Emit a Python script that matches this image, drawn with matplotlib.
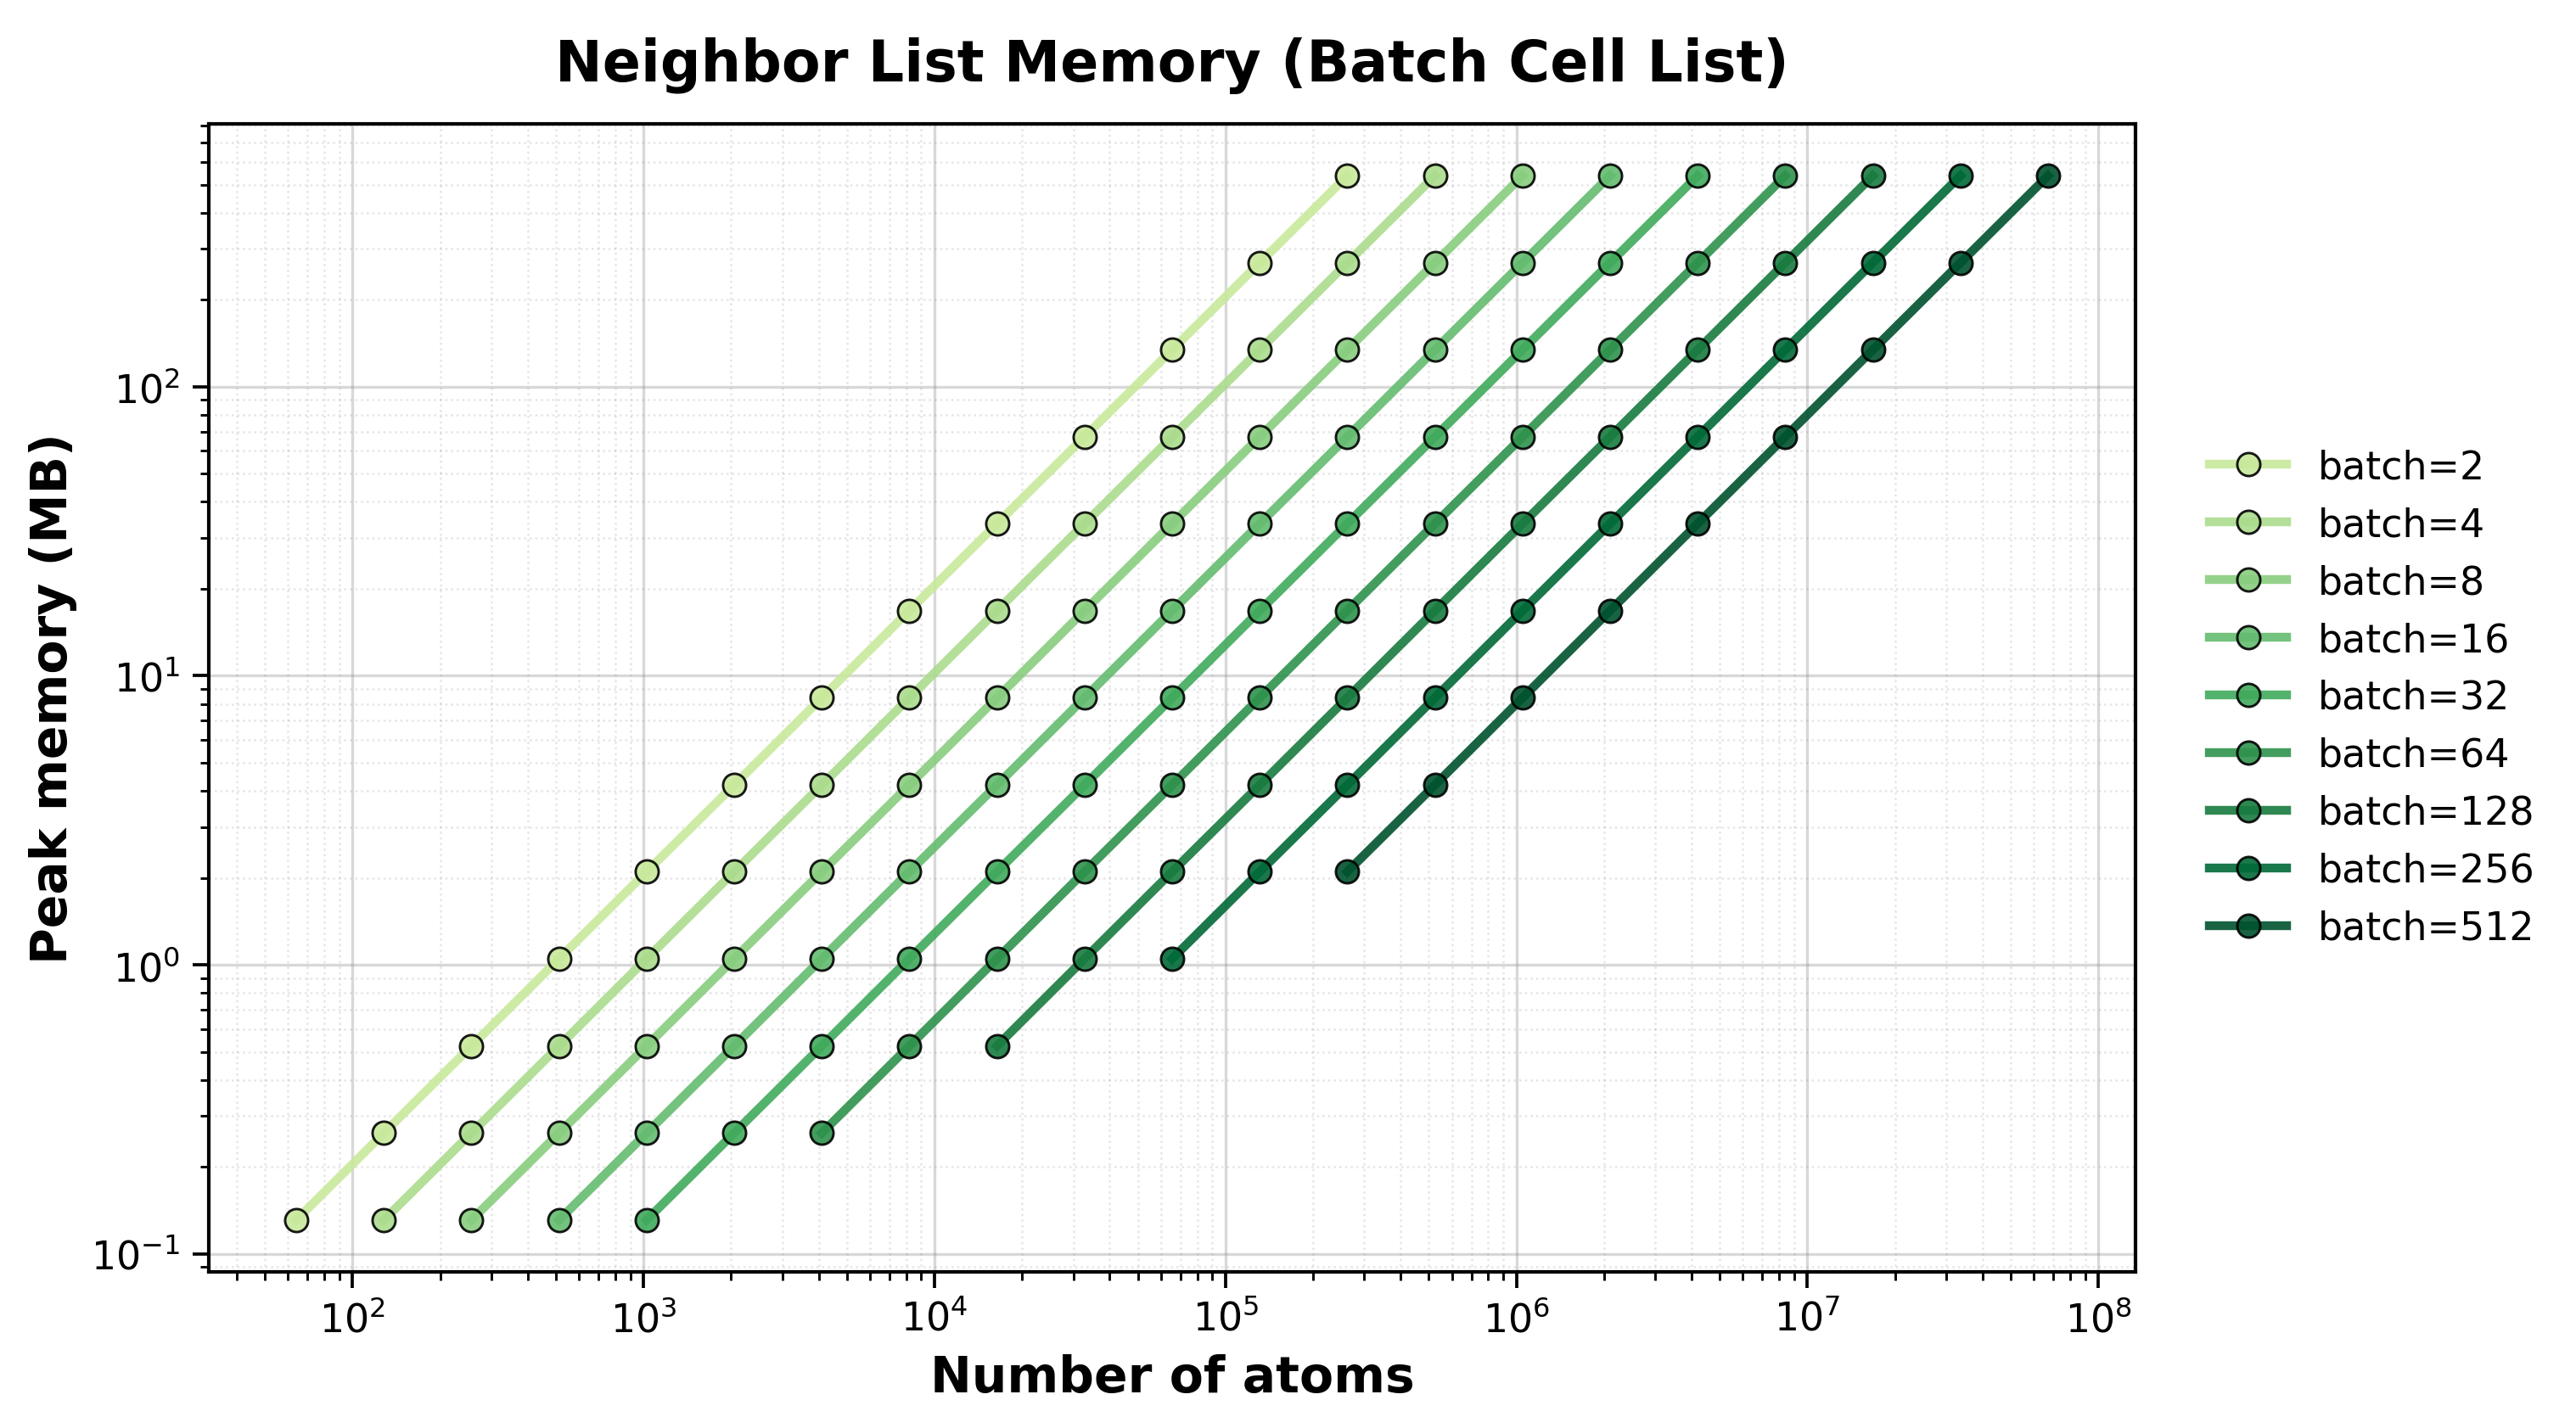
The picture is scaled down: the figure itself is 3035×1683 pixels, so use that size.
import numpy as np
import matplotlib
matplotlib.use("Agg")
import matplotlib.pyplot as plt

# batch sizes and the per-system atom counts swept for each
batch_sizes = [2, 4, 8, 16, 32, 64, 128, 256, 512]
atoms_per_system = [32, 64, 128, 256, 512, 1024, 2048, 4096, 8192,
                    16384, 32768, 65536, 131072]
# peak memory (MB), one value per atoms_per_system entry
peak_memory_mb = [0.131, 0.262, 0.524, 1.05, 2.10, 4.19, 8.39, 16.8,
                  33.6, 67.1, 134.2, 268.4, 536.9]
# smallest system size that was run for each batch size
first_system = [32, 32, 32, 32, 32, 64, 128, 256, 512]

colors = plt.cm.YlGn(np.linspace(0.3, 0.95, len(batch_sizes)))

fig, ax = plt.subplots(figsize=(10.117, 5.613), dpi=300)
fig.subplots_adjust(left=0.081, right=0.829, top=0.913, bottom=0.109)

for b, start, c in zip(batch_sizes, first_system, colors):
    i0 = atoms_per_system.index(start)
    n_atoms = [b * n for n in atoms_per_system[i0:]]
    mem = peak_memory_mb[i0:]
    ax.plot(n_atoms, mem, '-o', color=c, lw=2.5, alpha=0.9,
            markersize=6.5, markeredgecolor='black', markeredgewidth=0.7,
            label=f'batch={b}')

ax.set_xscale('log')
ax.set_yscale('log')
ax.grid(True, which='major', color='gray', alpha=0.3, lw=0.8)
ax.grid(True, which='minor', color='gray', alpha=0.2, ls=':', lw=0.6)
ax.tick_params(axis='both', which='major', labelsize=11, width=0.9, length=4.5)
ax.tick_params(axis='both', which='minor', width=0.7, length=2.5)
for s in ax.spines.values():
    s.set_linewidth(1.0)

ax.set_xlabel('Number of atoms', fontsize=14, fontweight='bold')
ax.set_ylabel('Peak memory (MB)', fontsize=14, fontweight='bold')
ax.set_title('Neighbor List Memory (Batch Cell List)', fontsize=16,
             fontweight='bold', pad=12)
ax.legend(loc='center left', bbox_to_anchor=(1.02, 0.5), frameon=False,
          fontsize=11)

fig.savefig('out.png', dpi=300)
